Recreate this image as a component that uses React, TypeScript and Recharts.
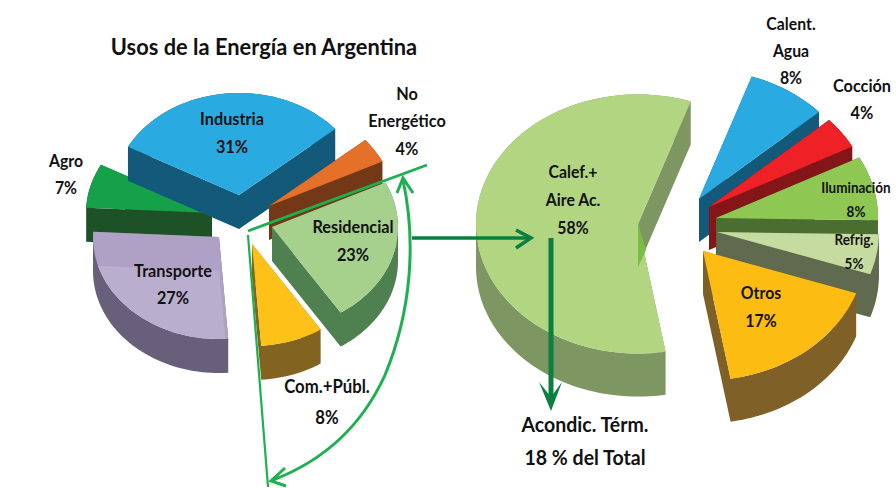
import React from "react";
import { PieChart, Pie } from "recharts";

// ---------- data ----------
const usesNames = ["Agro", "Industria", "No|Energético", "Residencial", "Com.+Públ.", "Transporte"];
const usesValues = [7, 31, 4, 23, 8, 27];
const usesTop = ["#15A14A", "#29ABE2", "#E5702A", "#A6D18D", "#FDC117", "#B4A7CB"];
const usesSide = ["#1C5226", "#12597A", "#733815", "#4F8150", "#82631F", "#68607A"];

const resNames = ["Calef.+|Aire Ac.", "Calent.|Agua", "Cocción", "Iluminación", "Refrig.", "Otros"];
const resValues = [58, 8, 4, 8, 5, 17];
const resTop = ["#B2D581", "#29ABE2", "#EE2127", "#8EC853", "#C6DB9F", "#FDBC12"];
const resSide = ["#7E9762", "#12597A", "#841518", "#4A6D30", "#5F6A4E", "#7F6128"];

// ---------- layout ----------
const usesExplode = [[-27, 18], [0, 0], [30, 11], [33, 32], [13, 49], [-20, 42]];
const resExplode = [[0, 0], [61, -25], [71, -17], [78, -6], [79, 8], [65, 27]];
// label: centre x, first baseline, line gap, font size
const usesLabels = [
  [66, 167, 27, 17], [232, 125, 28, 17.5], [407, 100, 27.5, 17.5],
  [353, 233, 28, 17.5], [327, 393, 31, 18], [173, 277, 27, 17.5],
];
const resLabels = [
  [573, 178, 28, 17], [791, 30, 27, 17], [862, 92, 27, 17.5],
  [856, 193, 24, 14.5], [854, 245, 24, 14.5], [761, 299, 28, 17],
];

const FONT = "Lato, 'Open Sans', sans-serif";
const SX = 0.93;

function build(names: string[], values: number[], top: string[], side: string[], explode: number[][], labels: number[][]) {
  return names.map((name, i) => ({ name, value: values[i], top: top[i], side: side[i], ex: explode[i], lab: labels[i] }));
}
const usesData = build(usesNames, usesValues, usesTop, usesSide, usesExplode, usesLabels);
const resData = build(resNames, resValues, resTop, resSide, resExplode, resLabels);

function sliceShape(ratio: number, depth: number, translucent?: string, notched?: string) {
  return (props: any) => {
    const { cx, cy, outerRadius, startAngle, endAngle } = props;
    const p = props.payload ?? props;
    const ex = p.ex ?? props.ex;
    const top = p.top ?? props.top;
    const side = p.side ?? props.side;
    const ax = cx + ex[0];
    const ay = cy + ex[1];
    const pts: number[][] = [[ax, ay]];
    const steps = Math.max(6, Math.ceil(Math.abs(endAngle - startAngle) / 2));
    for (let i = 0; i <= steps; i++) {
      const a = ((startAngle + ((endAngle - startAngle) * i) / steps) * Math.PI) / 180;
      pts.push([ax + outerRadius * Math.cos(a), ay - outerRadius * ratio * Math.sin(a)]);
    }
    let wall = "";
    for (let i = 0; i < pts.length; i++) {
      let a = pts[i];
      let b = pts[(i + 1) % pts.length];
      if (b[0] < a[0]) [a, b] = [b, a];
      wall += `M${a[0]} ${a[1]}L${b[0]} ${b[1]}L${b[0]} ${b[1] + depth}L${a[0]} ${a[1] + depth}Z`;
    }
    const face = "M" + pts.map((q) => `${q[0]} ${q[1]}`).join("L") + "Z";
    return (
      <g>
        <path d={wall} fill={side} />
        <path d={face} fill={top} fillOpacity={p.name === translucent ? 0.92 : 1} />
        {p.name === notched ? <path d={`M${ax} ${ay}L${ax + 8} ${ay + 26}L${ax} ${ay + depth}Z`} fill="#78BE44" /> : null}
      </g>
    );
  };
}

function renderLabel(props: any) {
  const p = props.payload ?? props;
  const lab = p.lab ?? props.lab;
  const lines = [...String(p.name ?? props.name).split("|"), `${p.value ?? props.value}%`];
  return (
    <text key={props.index} transform={`translate(${lab[0]} 0) scale(${SX} 1)`} textAnchor="middle" fontFamily={FONT} fontWeight={700} fontSize={lab[3]} fill="#111">
      {lines.map((l, i) => (
        <tspan key={i} x={0} y={lab[1] + i * lab[2]}>{l}</tspan>
      ))}
    </text>
  );
}

const LIGHT = "#1DB04F";
const DARK = "#0A7F3F";

function Caption({ x, y, size, children }: any) {
  return (
    <text transform={`translate(${x} ${y}) scale(${SX} 1)`} textAnchor="middle" fontFamily={FONT} fontWeight={700} fontSize={size} fill="#111">
      {children}
    </text>
  );
}

export default function App() {
  return (
    <div style={{ position: "absolute", left: 0, top: 0, width: 896, height: 488, background: "#fff" }}>
      <PieChart width={896} height={488} margin={{ top: 0, right: 0, bottom: 0, left: 0 }}>
        <Pie
          data={usesData} dataKey="value" nameKey="name" cx={239} cy={195} innerRadius={0} outerRadius={126}
          startAngle={177} endAngle={-183} stroke="none" isAnimationActive={false}
          shape={sliceShape(0.81, 34, "Transporte")} label={renderLabel} labelLine={false}
        />
        <Pie
          data={resData} dataKey="value" nameKey="name" cx={638} cy={224} innerRadius={0} outerRadius={162}
          startAngle={-80.2} endAngle={-440.2} stroke="none" isAnimationActive={false}
          shape={sliceShape(0.8, 43, undefined, "Calef.+|Aire Ac.")} label={renderLabel} labelLine={false}
        />
      </PieChart>
      <svg width={896} height={488} style={{ position: "absolute", left: 0, top: 0 }}>
        <Caption x={264} y={55} size={23.5}>Usos de la Energía en Argentina</Caption>
        <Caption x={585} y={432} size={21}>Acondic. Térm.</Caption>
        <Caption x={585} y={465} size={21}>18 % del Total</Caption>
        <path d="M248 231L427 165" stroke={LIGHT} strokeWidth={2.8} fill="none" />
        <path d="M248 235L268 487" stroke={LIGHT} strokeWidth={2.2} fill="none" />
        <path d="M403 180C416 240 412 310 385 375C360 430 320 462 273 480" stroke={LIGHT} strokeWidth={3} fill="none" />
        <path d="M397 193L403 178L413 193M285 468L271 481L286 486" stroke={LIGHT} strokeWidth={3} fill="none" />
        <path d="M412 238L530 238" stroke={DARK} strokeWidth={3.5} fill="none" />
        <path d="M516 230L531 238L516 248" stroke={DARK} strokeWidth={3.5} fill="none" />
        <path d="M551 238L551 400" stroke={DARK} strokeWidth={5} fill="none" />
        <path d="M539 382L551 397L562 382L551 411Z" fill={DARK} />
      </svg>
    </div>
  );
}
